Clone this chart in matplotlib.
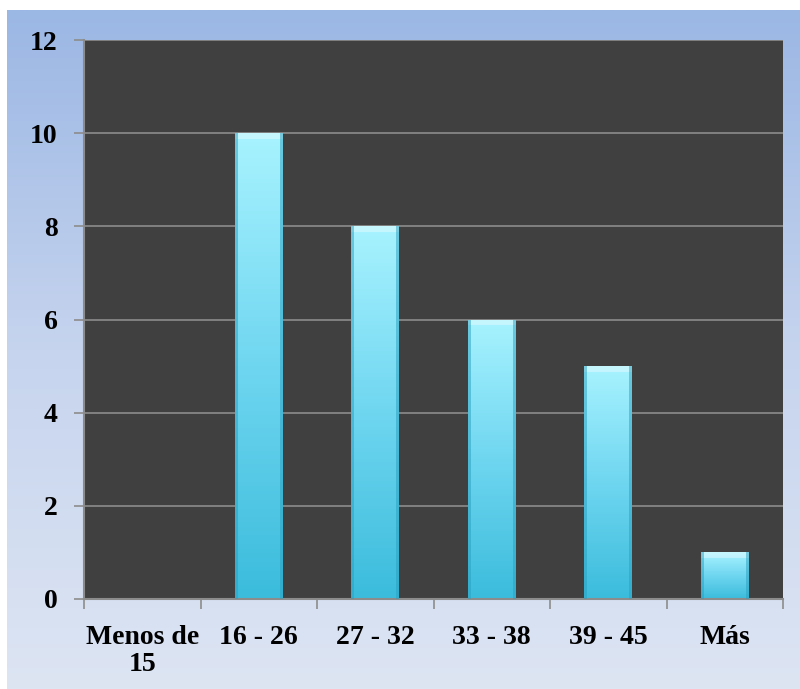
import numpy as np
import matplotlib
matplotlib.use("Agg")
import matplotlib.pyplot as plt
from matplotlib.colors import LinearSegmentedColormap
from matplotlib.patches import Rectangle
from matplotlib.font_manager import FontProperties

categories = ["Menos de\n15", "16 - 26", "27 - 32", "33 - 38", "39 - 45", "Más"]
values = [0, 10, 8, 6, 5, 1]
yticks = [0, 2, 4, 6, 8, 10, 12]

W, H = 800, 689
fig = plt.figure(figsize=(W / 100, H / 100), dpi=100)
fig.patch.set_facecolor("white")

# background gradient panel
bg = fig.add_axes([7 / W, 0, 1 - 7 / W, 1 - 10 / H], zorder=0)
bg_cmap = LinearSegmentedColormap.from_list("bg", ["#dde5f3", "#c6d4ee", "#9bb7e4"])
grad = np.linspace(0, 1, 256).reshape(-1, 1)
bg.imshow(grad, aspect="auto", cmap=bg_cmap, origin="lower", extent=[0, 1, 0, 1])
bg.set_axis_off()

left, right, top, bottom = 84, 783, 40, 599
ax = fig.add_axes([left / W, 1 - bottom / H, (right - left) / W, (bottom - top) / H], zorder=1)
ax.set_facecolor("#404040")
ax.set_xlim(-0.5, len(categories) - 0.5)
ax.set_ylim(0, 12)
ax.set_yticks(yticks)
for y in yticks[1:]:
    ax.axhline(y, color="#8c8c8c", lw=1.2, zorder=1)

bar_cmap = LinearSegmentedColormap.from_list("bar", ["#3bbcdc", "#6fd6f0", "#a8f3ff"])
bw = 0.41
x = np.arange(len(categories))
bars = ax.bar(x, values, width=bw, color="none", edgecolor="none", zorder=2)
for b, v in zip(bars, values):
    if v <= 0:
        continue
    x0 = b.get_x()
    im = ax.imshow(grad, aspect="auto", cmap=bar_cmap, origin="lower",
                   extent=[x0, x0 + bw, 0, v], zorder=2)
    im.set_clip_path(b)
    # bevel highlights
    ax.add_patch(Rectangle((x0, v - 0.12), bw, 0.12, color="white", alpha=0.35, lw=0, zorder=3))
    ax.add_patch(Rectangle((x0, 0), bw * 0.06, v, color="#2a9fbf", alpha=0.5, lw=0, zorder=3))
    ax.add_patch(Rectangle((x0 + bw * 0.94, 0), bw * 0.06, v, color="#2a9fbf", alpha=0.5, lw=0, zorder=3))
ax.set_xlim(-0.5, len(categories) - 0.5)
ax.set_ylim(0, 12)

ax.set_xticks(np.arange(len(categories) + 1) - 0.5, minor=False)
ax.set_xticklabels([])
ax.set_xticks(x, minor=True)
ax.set_xticklabels(categories, minor=True)
ax.tick_params(axis="x", which="minor", length=0, pad=19)
ax.tick_params(axis="x", which="major", length=7, color="#8c8c8c", width=1.2)
ax.tick_params(axis="y", length=7, color="#8c8c8c", width=1.2, pad=12)

fp = FontProperties(family="Liberation Serif", weight="bold", size=20)
for lab in ax.get_xticklabels(minor=True):
    lab.set_fontproperties(fp)
    lab.set_linespacing(1.1)
    lab.set_verticalalignment("top")
for lab in ax.get_yticklabels():
    lab.set_fontproperties(fp)

for s in ["left", "bottom"]:
    ax.spines[s].set_color("#8c8c8c")
    ax.spines[s].set_linewidth(1.5)
for s in ["top", "right"]:
    ax.spines[s].set_visible(False)

fig.savefig("out.png", dpi=100, facecolor=fig.get_facecolor())
